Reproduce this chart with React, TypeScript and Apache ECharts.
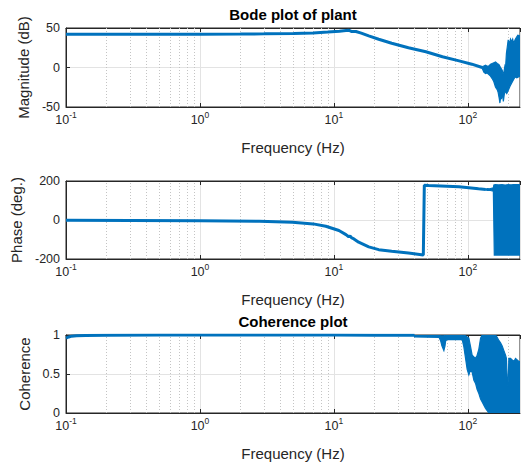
import React, { useEffect, useRef } from 'react';
import * as echarts from 'echarts';

// ---------- data ----------
const X_MIN = 0.1;
const X_MAX = 245;
const minorGridFreqs = [0.2, 0.3, 0.4, 0.5, 0.6, 0.7, 0.8, 0.9, 2, 3, 4, 5, 6, 7, 8, 9, 20, 30, 40, 50, 60, 70, 80, 90, 200];

// Magnitude (dB)
const magFreq = [0.1, 0.2, 0.5, 1, 2, 3, 5, 7, 9, 11, 12.3, 13, 13.6, 14.6, 16, 18.2, 21.6, 27, 36, 48.6, 64.6, 86, 107, 127.9];
const magDb = [42, 42, 42.1, 42.2, 42.4, 42.6, 43, 43.8, 44.8, 46, 46.7, 47, 45.5, 45.6, 43.5, 40, 35.8, 30.7, 25, 20, 13.6, 8.4, 4.2, 0];
const magUpF = [127.9, 131.6, 135.5, 139.4, 143.5, 147.6, 151.8, 156.3, 160.9, 165.5, 170.3, 175.4, 180.4, 183, 185.7, 189, 191.1, 194, 196.5, 200, 204, 208, 212, 216, 220, 225, 230, 236, 245];
const magUpV = [1, 2, 3, 1.5, 2, 4, 5, 6, 7, 5, 4, 0, -3.5, -8, -6, 2, 0, 18, 25, 35, 30, 36, 33, 36, 30, 35, 38, 41, 40];
const magLoF = [127.9, 131.6, 135.5, 139.4, 143.5, 147.6, 151.8, 156.3, 160.9, 165.5, 168, 171, 173.5, 176, 178, 181, 184, 187, 190, 195, 200, 206, 212, 218, 225, 232, 245];
const magLoV = [-1, -6, -7.7, -7, -9, -11, -14, -18, -25, -28, -31, -38, -45, -36, -40, -32, -43, -34, -30, -33, -29, -24, -20, -16, -12, -13, -11];

// Phase (deg.)
const phFreq = [0.1, 0.3, 1, 2.77, 4.9, 7, 8.7, 10.9, 12.3, 12.9, 13.2, 13.6, 14.1, 15.3, 18.2, 21.6, 27, 36, 46.5, 47.3, 51, 86, 120, 136];
const phDeg = [-1, -2, -3.5, -6, -11, -20, -32, -54, -75, -86, -82, -92, -97, -114, -138, -152, -160, -169, -179, 178, 177, 171, 160, 157];
const phUpF = [136, 140, 145, 150, 155, 156.3, 160, 170, 180, 190, 200, 210, 220, 230, 245];
const phUpV = [159, 161, 160, 163, 165, 179, 181, 180, 181, 179, 181, 180, 182, 181, 182];
const phLoF = [136, 140, 145, 150, 155, 157.5, 245];
const phLoV = [154, 152, 153, 150, 148, -180, -180];

// Coherence
const cohFreq = [0.1, 0.105, 0.11, 0.12, 0.14, 0.2, 0.5, 1, 5, 10, 20, 40];
const cohVal = [0.96, 0.975, 0.985, 0.99, 0.995, 0.998, 0.999, 0.999, 0.999, 0.999, 0.998, 0.997];
const cohUpF = [40, 60.8, 62.5, 66.2, 68.2, 90.7, 96.1, 101.7, 104.7, 107.7, 110.9, 114.1, 117.3, 120.8, 124.4, 127.9, 160.9, 165.5, 170.3, 175.4, 180.4, 185.7, 191.1, 194, 196.5, 198.5, 200.5, 202.3, 208.2, 214.2, 220.4, 226.9, 233.4, 240.2, 245];
const cohUpV = [1, 1, 0.99, 0.99, 1, 1, 0.99, 0.96, 0.85, 0.74, 0.72, 0.7, 0.74, 0.82, 0.96, 1, 1, 0.97, 0.93, 0.9, 0.86, 0.8, 0.74, 0.7, 0.45, 0.34, 0.45, 0.7, 0.7, 0.68, 0.66, 0.7, 0.68, 0.66, 0.66];
const cohLoF = [40, 60.8, 62.5, 64, 66.2, 67.5, 68.2, 69.7, 90.7, 93.3, 96.1, 98.8, 101.7, 104.7, 107.7, 110.9, 114.1, 117.3, 120.8, 124.4, 127.9, 131.6, 135.5, 139.4, 143.5, 245];
const cohLoV = [0.975, 0.97, 0.93, 0.86, 0.8, 0.86, 0.92, 0.94, 0.94, 0.85, 0.7, 0.56, 0.49, 0.55, 0.52, 0.42, 0.38, 0.3, 0.25, 0.18, 0.14, 0.1, 0.06, 0.03, 0, 0];

// ---------- styling ----------
const BLUE = '#0072BD';
const TXT = '#262626';
const FONT = '"Liberation Sans", Arial, Helvetica, sans-serif';
const GRID_COLOR = '#e3e3e3';
const MINOR_COLOR = '#c4c4c4';

const zip = (xs: number[], ys: number[]) => xs.map((x, i) => [x, ys[i]]);

const fmtLog = (v: number) => {
  const l = Math.log10(v);
  const e = Math.round(l);
  if (Math.abs(l - e) > 1e-6) return '';
  return `{b|10}{e|${e}}`;
};

const grids = [
  { left: 66, top: 28, width: 454, height: 79 },
  { left: 66, top: 181, width: 454, height: 78 },
  { left: 66, top: 335, width: 454, height: 78 },
];

function bottomAxis(gi: number) {
  return {
    type: 'log',
    logBase: 10,
    gridIndex: gi,
    min: X_MIN,
    max: X_MAX,
    position: 'bottom',
    name: 'Frequency (Hz)',
    nameLocation: 'middle',
    nameGap: 33,
    nameTextStyle: { fontSize: 15, color: TXT, fontFamily: FONT },
    axisLine: { show: true, onZero: false, lineStyle: { color: TXT, width: 1 } },
    axisTick: { show: true, inside: true, length: 4, lineStyle: { color: TXT } },
    axisLabel: {
      formatter: fmtLog,
      margin: 3,
      showMaxLabel: false,
      rich: {
        b: { fontSize: 12.5, color: TXT, fontFamily: FONT, lineHeight: 16, verticalAlign: 'bottom' },
        e: { fontSize: 8.5, color: TXT, fontFamily: FONT, lineHeight: 16, verticalAlign: 'top' },
      },
    },
    splitLine: { show: true, lineStyle: { color: GRID_COLOR, width: 1 } },
  };
}

function topAxis(gi: number, title: string) {
  return {
    type: 'log',
    logBase: 10,
    gridIndex: gi,
    min: X_MIN,
    max: X_MAX,
    position: 'top',
    name: title,
    nameLocation: 'middle',
    nameGap: 6,
    nameTextStyle: { fontSize: 15, fontWeight: 'bold', color: '#000', fontFamily: FONT },
    axisLine: { show: true, onZero: false, lineStyle: { color: TXT, width: 1 } },
    axisTick: { show: true, inside: true, length: 4, lineStyle: { color: TXT } },
    axisLabel: { show: false },
    splitLine: { show: false },
  };
}

function yAxis(gi: number, name: string, min: number, max: number, interval: number, gap: number) {
  return {
    type: 'value',
    gridIndex: gi,
    min,
    max,
    interval,
    name,
    nameLocation: 'middle',
    nameGap: gap,
    nameTextStyle: { fontSize: 15, color: TXT, fontFamily: FONT },
    axisLine: { show: true, onZero: false, lineStyle: { color: TXT, width: 1 } },
    axisTick: { show: true, inside: true, length: 4, lineStyle: { color: TXT } },
    axisLabel: { fontSize: 12.5, color: TXT, fontFamily: FONT, margin: 6 },
    splitLine: { show: true, lineStyle: { color: GRID_COLOR, width: 1 } },
  };
}

const minorMarkLine = {
  silent: true,
  z: 1,
  symbol: ['none', 'none'],
  label: { show: false },
  lineStyle: { type: [1, 2], color: MINOR_COLOR, width: 1 },
  data: minorGridFreqs.map((f) => ({ xAxis: f })),
};

function mainLine(gi: number, xs: number[], ys: number[]) {
  return {
    type: 'line',
    xAxisIndex: gi * 2,
    yAxisIndex: gi,
    data: zip(xs, ys),
    symbol: 'none',
    showSymbol: false,
    z: 2,
    lineStyle: { width: 3, color: BLUE },
    markLine: minorMarkLine,
  };
}

function band(gi: number, upF: number[], upV: number[], loF: number[], loV: number[]) {
  const pts = [...zip(upF, upV), ...zip(loF, loV).reverse()];
  return {
    type: 'custom',
    xAxisIndex: gi * 2,
    yAxisIndex: gi,
    clip: true,
    silent: true,
    z: 2,
    data: [[upF[0], upV[0]]],
    renderItem: (_params: any, api: any) => ({
      type: 'polygon',
      shape: { points: pts.map((p) => api.coord(p)) },
      style: { fill: BLUE, stroke: BLUE, lineWidth: 1.2 },
    }),
  };
}

export default function App() {
  const ref = useRef<HTMLDivElement>(null);
  useEffect(() => {
    if (!ref.current) return;
    const chart = echarts.init(ref.current, undefined, { renderer: 'svg' });
    chart.setOption({
      animation: false,
      backgroundColor: '#ffffff',
      grid: grids.map((g) => ({ ...g, show: true, borderColor: TXT, borderWidth: 1, backgroundColor: 'transparent' })),
      xAxis: [
        bottomAxis(0), topAxis(0, 'Bode plot of plant'),
        bottomAxis(1), topAxis(1, ''),
        bottomAxis(2), topAxis(2, 'Coherence plot'),
      ],
      yAxis: [
        yAxis(0, 'Magnitude (dB)', -50, 50, 50, 26),
        yAxis(1, 'Phase (deg.)', -200, 200, 200, 38),
        yAxis(2, 'Coherence', 0, 1, 0.5, 31),
      ],
      series: [
        mainLine(0, magFreq, magDb),
        band(0, magUpF, magUpV, magLoF, magLoV),
        mainLine(1, phFreq, phDeg),
        band(1, phUpF, phUpV, phLoF, phLoV),
        mainLine(2, cohFreq, cohVal),
        band(2, cohUpF, cohUpV, cohLoF, cohLoV),
      ],
    });
    return () => chart.dispose();
  }, []);
  return (
    <div
      ref={ref}
      style={{ position: 'fixed', left: 0, top: 0, width: 521, height: 466, background: '#fff' }}
    />
  );
}
